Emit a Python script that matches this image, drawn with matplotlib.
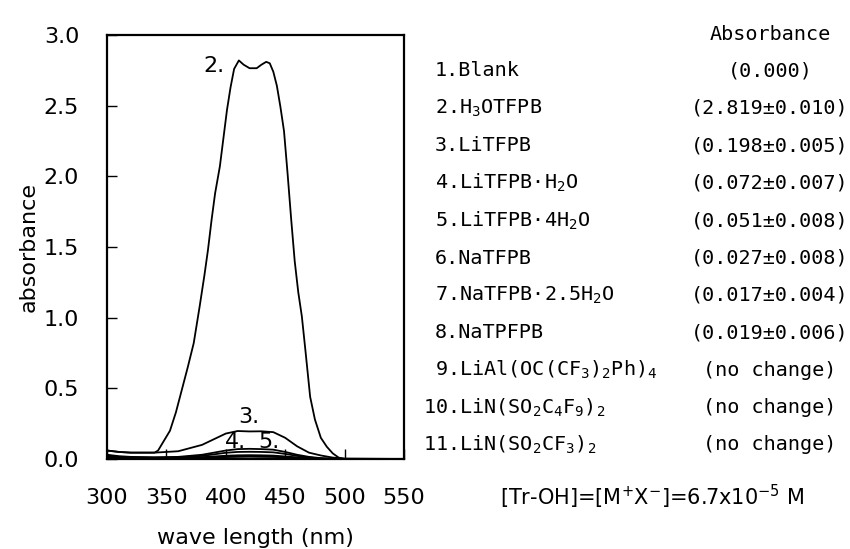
import matplotlib
matplotlib.use("Agg")
import matplotlib.pyplot as plt

# ---- data ----
wl_blank = [300, 550]
a_blank = [0.0, 0.0]

wl2 = [300, 310, 320, 330, 340, 343, 348, 353, 358, 363, 368, 373, 378, 382, 385, 388, 391, 395,
       398, 401, 404, 407, 411, 415, 420, 426, 430, 434, 437, 440, 443, 446, 449, 452, 455, 458,
       461, 464, 467, 471, 475, 480, 485, 490, 495, 500, 550]
a2 = [0.06, 0.05, 0.045, 0.045, 0.045, 0.06, 0.13, 0.20, 0.33, 0.49, 0.65, 0.82, 1.08, 1.30, 1.48,
      1.69, 1.88, 2.07, 2.27, 2.47, 2.63, 2.76, 2.82, 2.79, 2.765, 2.765, 2.79, 2.81, 2.80, 2.74,
      2.64, 2.49, 2.32, 2.02, 1.70, 1.40, 1.18, 1.01, 0.77, 0.44, 0.28, 0.15, 0.087, 0.04, 0.01,
      0.0, 0.0]

wl_s = [300, 310, 320, 340, 360, 380, 390, 400, 410, 420, 430, 440, 450, 460, 470, 480, 490, 500, 550]
a3 = [0.06, 0.05, 0.045, 0.045, 0.055, 0.10, 0.14, 0.18, 0.198, 0.195, 0.196, 0.19, 0.15, 0.09,
      0.045, 0.025, 0.01, 0.003, 0.0]
a4 = [0.03, 0.02, 0.015, 0.012, 0.015, 0.03, 0.045, 0.06, 0.070, 0.072, 0.070, 0.066, 0.05, 0.03,
      0.015, 0.006, 0.002, 0.0, 0.0]
a5 = [0.025, 0.015, 0.012, 0.01, 0.012, 0.022, 0.033, 0.044, 0.050, 0.051, 0.050, 0.047, 0.036,
      0.022, 0.011, 0.004, 0.001, 0.0, 0.0]
a6 = [0.02, 0.012, 0.008, 0.006, 0.008, 0.013, 0.018, 0.023, 0.026, 0.027, 0.026, 0.024, 0.018,
      0.011, 0.005, 0.002, 0.0, 0.0, 0.0]
a7 = [0.015, 0.01, 0.006, 0.004, 0.005, 0.008, 0.011, 0.014, 0.016, 0.017, 0.016, 0.015, 0.011,
      0.007, 0.003, 0.001, 0.0, 0.0, 0.0]
a8 = [0.015, 0.01, 0.006, 0.004, 0.005, 0.009, 0.012, 0.016, 0.018, 0.019, 0.018, 0.017, 0.013,
      0.008, 0.004, 0.001, 0.0, 0.0, 0.0]

curve_labels = ["2.", "3.", "4.", "5."]
curve_label_x = [390, 419, 408, 436]
curve_label_y = [2.78, 0.30, 0.12, 0.12]

x_ticks = [300, 350, 400, 450, 500, 550]
y_ticks = [0.0, 0.5, 1.0, 1.5, 2.0, 2.5, 3.0]

names = ["1.Blank", "2.H$_3$OTFPB", "3.LiTFPB", "4.LiTFPB\u00b7H$_2$O", "5.LiTFPB\u00b74H$_2$O",
         "6.NaTFPB", "7.NaTFPB\u00b72.5H$_2$O", "8.NaTPFPB", "9.LiAl(OC(CF$_3$)$_2$Ph)$_4$",
         "10.LiN(SO$_2$C$_4$F$_9$)$_2$", "11.LiN(SO$_2$CF$_3$)$_2$"]
values = ["(0.000)", "(2.819\u00b10.010)", "(0.198\u00b10.005)", "(0.072\u00b10.007)",
          "(0.051\u00b10.008)", "(0.027\u00b10.008)", "(0.017\u00b10.004)", "(0.019\u00b10.006)",
          "(no change)", "(no change)", "(no change)"]
header = "Absorbance"
formula = "[Tr-OH]=[M$^{+}$X$^{-}$]=6.7x10$^{-5}$ M"

# ---- figure ----
plt.rcParams['mathtext.default'] = 'regular'
W, H = 850, 549
fig = plt.figure(figsize=(W / 100, H / 100), dpi=100)
ax = fig.add_axes([107 / W, 1 - 459 / H, (404 - 107) / W, (459 - 35) / H])

lw = 1.3
ax.plot(wl_blank, a_blank, color='black', lw=2.2)
ax.plot(wl2, a2, color='black', lw=lw)
for a in (a3, a4, a5, a6, a7, a8):
    ax.plot(wl_s, a, color='black', lw=lw)

tick_font = dict(family='DejaVu Sans', size=16)
for t, x, y in zip(curve_labels, curve_label_x, curve_label_y):
    ax.text(x, y, t, ha='center', va='center', **tick_font)

ax.set_xlim(300, 550)
ax.set_ylim(0, 3.0)
ax.set_xticks(x_ticks)
ax.set_yticks(y_ticks)
ax.set_xticklabels([str(v) for v in x_ticks], **tick_font)
ax.set_yticklabels([f"{v:.1f}" for v in y_ticks], **tick_font)
ax.tick_params(axis='both', direction='in', length=7, width=1.0)
ax.tick_params(axis='y', pad=20)
ax.tick_params(axis='x', pad=21)
for s in ax.spines.values():
    s.set_linewidth(1.6)
ax.set_xlabel("wave length (nm)", **tick_font, labelpad=14)
ax.set_ylabel("absorbance", **tick_font, labelpad=4)

# ---- right column ----
col_font = dict(family='DejaVu Sans Mono', size=14.5)
val_x = 770 / W
row0 = 71.0
row_step = 37.4
for i, (n, v) in enumerate(zip(names, values)):
    ypix = row0 + row_step * i
    nx = (423 if i >= 9 else 435) / W
    fig.text(nx, 1 - ypix / H, n, ha='left', va='center', **col_font)
    fig.text(val_x, 1 - ypix / H, v, ha='center', va='center', **col_font)
fig.text(val_x, 1 - 34 / H, header, ha='center', va='center', **col_font)

fig.text(652 / W, 1 - 497 / H, formula, ha='center', va='center',
         family='DejaVu Sans', size=15)

fig.savefig("out.png", dpi=100)
